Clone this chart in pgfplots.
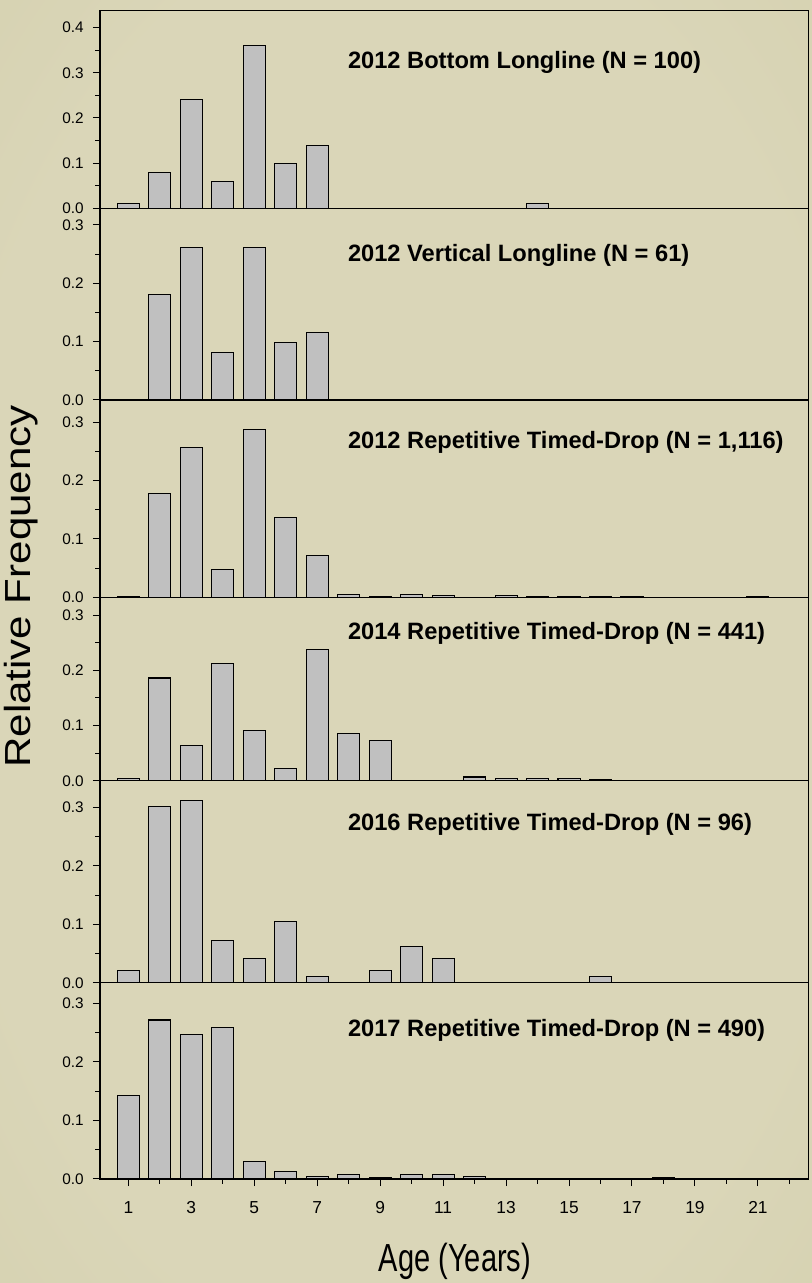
\documentclass[border=0pt]{standalone}
\usepackage{fontspec}
\setmainfont{Liberation Sans}
\usepackage{pgfplots}
\pgfplotsset{compat=1.18}

\definecolor{bgin}{RGB}{218,214,184}
\definecolor{bgmid}{RGB}{208,203,167}
\definecolor{bgout}{RGB}{186,180,138}
\definecolor{barfill}{RGB}{192,192,192}
\pgfdeclareradialshading{vignette}{\pgfpoint{0bp}{0bp}}{color(0bp)=(bgin); color(28bp)=(bgin); color(52bp)=(bgmid); color(72bp)=(bgout)}

\tikzset{
  bars/.style={fill=barfill, draw=black, line width=0.8pt},
  ptitle/.style={anchor=base west, inner sep=0pt, font=\bfseries\fontsize{17.75}{20}\selectfont},
}
\pgfplotsset{
  panel/.style={
    scale only axis, width=531.2pt, anchor=south west,
    xmin=0.1, xmax=22.6, ymin=0,
    axis line style={black, line width=0.8pt},
    ybar, bar width=0.7, bar shift=0pt,
    ytick={0,0.1,0.2,0.3,0.4},
    minor ytick={0.05,0.15,0.25,0.35},
    /pgf/number format/assume math mode=true,
    yticklabel style={
      /pgf/number format/fixed,
      /pgf/number format/fixed zerofill,
      /pgf/number format/precision=1},
    y tick label style={font=\fontsize{11.5}{13}\selectfont, xshift=-3.4pt},
    tick align=outside, tick pos=left,
    major tick length=5.25pt, minor tick length=3.5pt,
    tick style={black, line width=0.75pt},
    xtick=\empty,
  },
}

\begin{document}
\begin{tikzpicture}
\useasboundingbox (0,0) rectangle (609pt,962.25pt);
\shade[shading=vignette] (0,0) rectangle (609pt,962.25pt);

% 2012 bottom longline
\begin{axis}[panel, at={(75pt,806.0pt)}, height=148.7pt, ymax=0.4387]
\addplot[bars] coordinates {(1,0.01) (2,0.08) (3,0.24) (4,0.06) (5,0.36) (6,0.10) (7,0.14) (14,0.01)};
\node[ptitle] at (axis cs:7.97,0.3095) {2012 Bottom Longline (N = 100)};
\end{axis}

% 2012 vertical longline
\begin{axis}[panel, at={(75pt,662.25pt)}, height=143.8pt, ymax=0.3286]
\addplot[bars] coordinates {(2,0.180) (3,0.262) (4,0.082) (5,0.262) (6,0.098) (7,0.115)};
\node[ptitle] at (axis cs:7.97,0.2372) {2012 Vertical Longline (N = 61)};
\end{axis}

% 2012 repetitive timed-drop
\begin{axis}[panel, at={(75pt,514.3pt)}, height=148.0pt, ymax=0.338]
\addplot[bars] coordinates {(1,0.001) (2,0.177) (3,0.256) (4,0.048) (5,0.287) (6,0.136) (7,0.071)
  (8,0.005) (9,0.001) (10,0.005) (11,0.003) (13,0.003) (14,0.002) (15,0.002) (16,0.001) (17,0.001) (21,0.001)};
\node[ptitle] at (axis cs:7.97,0.2556) {2012 Repetitive Timed-Drop (N = 1,116)};
\end{axis}

% 2014 repetitive timed-drop
\begin{axis}[panel, at={(75pt,376.7pt)}, height=137.55pt, ymax=0.332]
\addplot[bars] coordinates {(1,0.0045) (2,0.186) (3,0.0635) (4,0.213) (5,0.0907) (6,0.0227) (7,0.238)
  (8,0.0862) (9,0.0726) (12,0.0068) (13,0.0045) (14,0.0045) (15,0.0045) (16,0.0023)};
\node[ptitle] at (axis cs:7.97,0.2562) {2014 Repetitive Timed-Drop (N = 441)};
\end{axis}

% 2016 repetitive timed-drop
\begin{axis}[panel, at={(75pt,225.2pt)}, height=151.5pt, ymax=0.346]
\addplot[bars] coordinates {(1,0.0208) (2,0.302) (3,0.3125) (4,0.0729) (5,0.0417) (6,0.1042) (7,0.0104)
  (9,0.0208) (10,0.0625) (11,0.0417) (16,0.0104)};
\node[ptitle] at (axis cs:7.97,0.260) {2016 Repetitive Timed-Drop (N = 96)};
\end{axis}

% 2017 repetitive timed-drop
\begin{axis}[panel, at={(75pt,78pt)}, height=147.2pt, ymax=0.335,
  xtick={1,3,...,21}, minor xtick={2,4,...,22},
  xticklabel style={font=\fontsize{13}{15}\selectfont, text height=9.3pt, text depth=0pt, yshift=-7.5pt}]
\addplot[bars] coordinates {(1,0.1429) (2,0.2714) (3,0.2469) (4,0.2592) (5,0.0306) (6,0.0122) (7,0.0041)
  (8,0.0082) (9,0.0020) (10,0.0082) (11,0.0082) (12,0.0041) (18,0.0020)};
\node[ptitle] at (axis cs:7.97,0.2428) {2017 Repetitive Timed-Drop (N = 490)};
\end{axis}

% axis titles
\node[anchor=base, inner sep=0pt] at (341.25pt,9pt)
  {\scalebox{1}[1.35]{\fontsize{21.75}{24}\selectfont Age (Years)}};
\node[anchor=base, inner sep=0pt, rotate=90] at (23.25pt,522.4pt)
  {\scalebox{1.16}[1]{\fontsize{27.2}{30}\selectfont Relative Frequency}};
\end{tikzpicture}
\end{document}
